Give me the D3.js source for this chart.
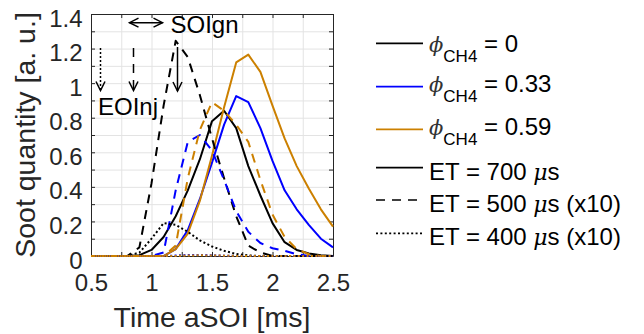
<!DOCTYPE html>
<html>
<head>
<meta charset="utf-8">
<script src="https://cdn.jsdelivr.net/npm/d3@7"></script>
<style>
  html, body { margin: 0; padding: 0; background: #fff; }
  svg { display: block; font-family: "Liberation Sans", Arial, Helvetica, sans-serif; }
</style>
</head>
<body>
<svg id="chart" width="644" height="334"></svg>
<script>
// Time after start of injection [ms]
const time = [0.5, 0.6, 0.7, 0.8, 0.9, 1.0, 1.1, 1.2, 1.3, 1.4, 1.5,
              1.6, 1.7, 1.8, 1.9, 2.0, 2.1, 2.2, 2.3, 2.4, 2.5];

// Soot quantity [a. u.], ET = 700 us
const et700_phi0   = [0, 0, 0, 0, 0.005, 0.035, 0.11, 0.23, 0.38, 0.56, 0.78,
                      0.84, 0.74, 0.52, 0.35, 0.19, 0.08, 0.035, 0.015, 0.005, 0];
const et700_phi033 = [0, 0, 0, 0, 0, 0, 0, 0.04, 0.15, 0.33, 0.54,
                      0.76, 0.925, 0.89, 0.74, 0.55, 0.38, 0.27, 0.18, 0.10, 0.05];
const et700_phi059 = [0, 0, 0, 0, 0, 0, 0, 0.04, 0.13, 0.32, 0.58,
                      0.86, 1.12, 1.165, 1.065, 0.87, 0.68, 0.52, 0.39, 0.27, 0.17];

// ET = 500 us (x10)
const et500_phi0   = [0, 0, 0, 0, 0.05, 0.42, 0.87, 1.245, 1.15, 0.93, 0.68,
                      0.45, 0.23, 0.06, 0.02, 0, 0, 0, 0, 0, 0];
const et500_phi033 = [0, 0, 0, 0, 0, 0, 0.02, 0.38, 0.66, 0.70, 0.61,
                      0.44, 0.26, 0.14, 0.075, 0.045, 0.03, 0.01, 0, 0, 0];
const et500_phi059 = [0, 0, 0, 0, 0, 0, 0, 0.06, 0.45, 0.73, 0.89,
                      0.84, 0.76, 0.66, 0.44, 0.24, 0.11, 0.04, 0.01, 0, 0];

// ET = 400 us (x10)
const et400_phi0   = [0, 0, 0, 0, 0.02, 0.10, 0.19, 0.18, 0.14, 0.09, 0.055,
                      0.03, 0.012, 0.003, 0, 0, 0, 0, 0, 0, 0];
const et400_phi033 = [0, 0, 0, 0, 0, 0, 0, 0.003, 0.006, 0.006, 0.004,
                      0.002, 0, 0, 0, 0, 0, 0, 0, 0, 0];
const et400_phi059 = [0, 0, 0, 0, 0, 0, 0, 0, 0.003, 0.004, 0.003,
                      0.002, 0, 0, 0, 0, 0, 0, 0, 0, 0];

const xMajor = [0.5, 1, 1.5, 2, 2.5];
const xMinor = [0.5, 0.75, 1, 1.25, 1.5, 1.75, 2, 2.25, 2.5];
const yMajor = [0, 0.2, 0.4, 0.6, 0.8, 1, 1.2, 1.4];
const yMinor = [0, 0.1, 0.2, 0.3, 0.4, 0.5, 0.6, 0.7, 0.8, 0.9, 1, 1.1, 1.2, 1.3, 1.4];

const phiLabels = ["0", "0.33", "0.59"];
const etLabels = ["ET = 700 ", "ET = 500 ", "ET = 400 "];
const etSuffix = ["s", "s (x10)", "s (x10)"];

const colors = { phi0: "#000000", phi033: "#0000ff", phi059: "#cc8000" };
const dashes = { solid: null, dashed: "9,7", dotted: "2,2.4" };

const series = [
  { values: et700_phi0,   color: colors.phi0,   dash: dashes.solid },
  { values: et700_phi033, color: colors.phi033, dash: dashes.solid },
  { values: et700_phi059, color: colors.phi059, dash: dashes.solid },
  { values: et500_phi0,   color: colors.phi0,   dash: dashes.dashed },
  { values: et500_phi033, color: colors.phi033, dash: dashes.dashed },
  { values: et500_phi059, color: colors.phi059, dash: dashes.dashed },
  { values: et400_phi0,   color: colors.phi0,   dash: dashes.dotted },
  { values: et400_phi033, color: colors.phi033, dash: dashes.dotted },
  { values: et400_phi059, color: colors.phi059, dash: dashes.dotted }
];

const svg = d3.select("#chart");
const margin = { left: 91, top: 14, right: 311, bottom: 78 };
const W = 644 - margin.left - margin.right;
const H = 334 - margin.top - margin.bottom;
const axisColor = "#262626";

const x = d3.scaleLinear().domain([0.5, 2.5]).range([0, W]);
const y = d3.scaleLinear().domain([0, 1.4]).range([H, 0]);

const g = svg.append("g").attr("transform", `translate(${margin.left},${margin.top})`);

// grid
g.append("g").attr("transform", `translate(0,${H})`)
  .call(d3.axisBottom(x).tickValues(xMinor).tickSize(-H).tickFormat(""))
  .call(s => s.select(".domain").remove())
  .call(s => s.selectAll("line").attr("stroke", "#e3e3e3"));
g.append("g")
  .call(d3.axisLeft(y).tickValues(yMinor).tickSize(-W).tickFormat(""))
  .call(s => s.select(".domain").remove())
  .call(s => s.selectAll("line").attr("stroke", "#e3e3e3"));

// axes with inward ticks on all four sides
const fmt = d => String(d);
const bottom = g.append("g").attr("transform", `translate(0,${H})`)
  .call(d3.axisBottom(x).tickValues(xMinor).tickSizeInner(-4).tickSizeOuter(0)
        .tickFormat(d => xMajor.includes(d) ? fmt(d) : ""));
bottom.selectAll("text").attr("y", 35).attr("dy", null);

const left = g.append("g")
  .call(d3.axisLeft(y).tickValues(yMinor).tickSizeInner(-4).tickSizeOuter(0)
        .tickFormat(d => yMajor.some(v => Math.abs(v - d) < 1e-9) ? fmt(d) : ""));
left.selectAll("text").attr("x", -8.5).attr("dy", 12);

g.append("g")
  .call(d3.axisTop(x).tickValues(xMinor).tickSizeInner(-4).tickSizeOuter(0).tickFormat(""));
g.append("g").attr("transform", `translate(${W},0)`)
  .call(d3.axisRight(y).tickValues(yMinor).tickSizeInner(-4).tickSizeOuter(0).tickFormat(""));

g.selectAll(".domain").attr("stroke", axisColor);
g.selectAll(".tick line").filter(function () { return Math.abs(+d3.select(this).attr("x2") || +d3.select(this).attr("y2")) === 4; })
  .attr("stroke", axisColor);
g.selectAll(".tick text").attr("font-size", 24).attr("fill", axisColor)
  .attr("font-family", "'Liberation Sans', Arial, sans-serif");

// curves
svg.append("clipPath").attr("id", "plotClip")
  .append("rect").attr("x", -2).attr("y", -2).attr("width", W + 4).attr("height", H + 4);

const line = d3.line().x((d, i) => x(time[i])).y(d => y(d));
const curves = g.append("g").attr("clip-path", "url(#plotClip)");
series.forEach(s => {
  curves.append("path")
    .datum(s.values)
    .attr("d", line)
    .attr("fill", "none")
    .attr("stroke", s.color)
    .attr("stroke-width", 2)
    .attr("stroke-linejoin", "round")
    .attr("stroke-dasharray", s.dash);
});

// axis labels
svg.append("text")
  .attr("x", margin.left + W / 2).attr("y", 327)
  .attr("text-anchor", "middle").attr("font-size", 28.5).attr("fill", axisColor)
  .text("Time aSOI [ms]");
svg.append("text")
  .attr("transform", `translate(35,${margin.top + H / 2}) rotate(-90)`)
  .attr("text-anchor", "middle").attr("font-size", 28.5).attr("fill", axisColor)
  .text("Soot quantity [a. u.]");

// annotation arrows (end of injection, start of ignition)
function arrow(x1, y1, x2, y2, dash, both) {
  const a = svg.append("g").attr("stroke", "#000").attr("stroke-width", 1.5).attr("fill", "none");
  a.append("line").attr("x1", x1).attr("y1", y1).attr("x2", x2).attr("y2", y2)
    .attr("stroke-dasharray", dash);
  const head = (px, py, qx, qy) => {
    const ang = Math.atan2(py - qy, px - qx);
    const L = 9, Wd = 4.5;
    const bx = px - L * Math.cos(ang), by = py - L * Math.sin(ang);
    const nx = -Math.sin(ang) * Wd, ny = Math.cos(ang) * Wd;
    a.append("path").attr("d", `M${bx + nx},${by + ny}L${px},${py}L${bx - nx},${by - ny}`);
  };
  head(x2, y2, x1, y1);
  if (both) head(x1, y1, x2, y2);
}
arrow(100.5, 48, 100.5, 90.5, "2,2", false);
arrow(133.5, 48, 133.5, 90.5, "9,7", false);
arrow(177.5, 47, 177.5, 91, null, false);
arrow(129.5, 22.7, 162.5, 22.7, null, true);

svg.append("text").attr("x", 98).attr("y", 115).attr("font-size", 24).attr("fill", "#000").text("EOInj");
svg.append("text").attr("x", 170.5).attr("y", 32.5).attr("font-size", 24).attr("fill", "#000").text("SOIgn");

// legend
const legend = svg.append("g");
const legX1 = 376, legX2 = 423, legTextX = 429;
const phiRows = [
  { lineY: 43.3, base: 51.5, color: colors.phi0 },
  { lineY: 86.7, base: 91.7, color: colors.phi033 },
  { lineY: 129.3, base: 135, color: colors.phi059 }
];
phiRows.forEach((r, i) => {
  legend.append("line").attr("x1", legX1).attr("x2", legX2).attr("y1", r.lineY).attr("y2", r.lineY)
    .attr("stroke", r.color).attr("stroke-width", 1.7);
  const t = legend.append("text").attr("x", legTextX).attr("y", r.base).attr("font-size", 24).attr("fill", "#000");
  t.append("tspan").attr("font-family", "'DejaVu Serif', serif").attr("font-style", "italic")
    .attr("font-size", 21).attr("fill", "#333").text("\u03D5");
  t.append("tspan").attr("font-size", 17).attr("dy", 10).text("CH4");
  t.append("tspan").attr("dy", -10).text(" = " + phiLabels[i]);
});
const etRows = [
  { lineY: 167.7, base: 180, dash: dashes.solid },
  { lineY: 200, base: 211.7, dash: dashes.dashed },
  { lineY: 233.3, base: 245, dash: dashes.dotted }
];
etRows.forEach((r, i) => {
  legend.append("line").attr("x1", legX1).attr("x2", legX2).attr("y1", r.lineY).attr("y2", r.lineY)
    .attr("stroke", "#000").attr("stroke-width", 1.7).attr("stroke-dasharray", r.dash);
  const t = legend.append("text").attr("x", legTextX).attr("y", r.base).attr("font-size", 24).attr("fill", "#000");
  t.append("tspan").text(etLabels[i]);
  t.append("tspan").attr("font-family", "'DejaVu Serif', serif").attr("font-style", "italic").attr("font-size", 22).text("\u03BC");
  t.append("tspan").text(etSuffix[i]);
});
</script>
</body>
</html>
